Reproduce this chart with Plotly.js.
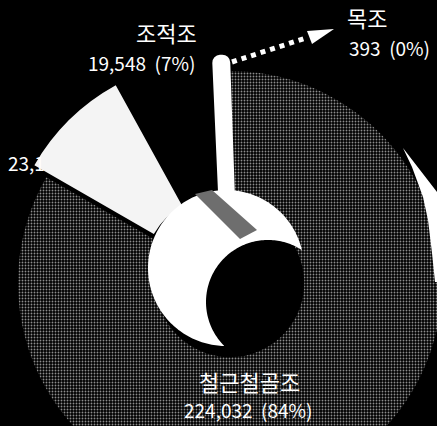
<!DOCTYPE html>
<html>
<head>
<meta charset="utf-8">
<script src="https://cdn.plot.ly/plotly-3.0.1.min.js"></script>
<style>
  html, body { margin: 0; padding: 0; background: #000; overflow: hidden; width: 437px; height: 426px; }
  #chart { width: 560px; height: 560px; }
</style>
</head>
<body>
<div id="chart"></div>
<script>
// Data
const categories = ['철근철골조', '철골조', '조적조', '목조'];
const values = [224032, 23150, 19548, 393];
const valueLabels = ['224,032', '23,1', '19,548', '393'];
const percentLabels = ['84%', '9%', '7%', '0%'];

// layout helpers (pixel -> paper, square canvas)
const S = 560;
const PX = p => p / S;
const PY = p => 1 - p / S;

const pulls = [0, 0.08, 0, 0.04];
const cx = 230, cy = 283, outerR = 212, maxPull = Math.max(...pulls);
const half = outerR * (1 + maxPull);

const pie = {
  type: 'pie',
  labels: categories,
  values: values,
  sort: false,
  direction: 'clockwise',
  rotation: -2,
  hole: 0.35,
  pull: pulls,
  textinfo: 'none',
  hoverinfo: 'label+value+percent',
  showlegend: false,
  domain: { x: [PX(cx - half), PX(cx + half)], y: [PY(cy + half), PY(cy - half)] },
  marker: {
    colors: ['#0e0e0e', '#f4f4f4', '#000000', '#ffffff'],
    line: { color: ['#000', '#f4f4f4', '#000', '#ffffff'], width: [0, 0, 0, 16] },
    pattern: { shape: ['.', '', '', ''], fgcolor: '#8c8c8c', size: 3, solidity: 0.3 }
  }
};

const font = { family: 'Noto Sans CJK KR, Noto Sans, sans-serif', color: '#ffffff' };
function ann(text, x, y, size, anchor) {
  return { text: text, x: PX(x), y: PY(y), xref: 'paper', yref: 'paper', showarrow: false,
           xanchor: anchor || 'center', yanchor: 'middle', font: Object.assign({ size: size }, font) };
}
const gap = '\u00a0 ';
const annotations = [
  ann(categories[2], 166, 32, 22),
  ann(valueLabels[2] + gap + '(' + percentLabels[2] + ')', 141, 62, 19),
  ann(categories[3], 367, 17, 22),
  ann(valueLabels[3] + gap + '(' + percentLabels[3] + ')', 389, 47, 19),
  ann(valueLabels[1], 6, 162, 19, 'left'),
  ann(categories[0], 249, 381, 22),
  ann(valueLabels[0] + gap + '(' + percentLabels[0] + ')', 248, 409, 19)
];

function poly(pts) {
  return 'M ' + pts.map(p => PX(p[0]) + ' ' + PY(p[1])).join(' L ') + ' Z';
}
// white crescent inside the hole: disc (c1) minus an offset disc (c2)
function crescent(c1x, c1y, r1, c2x, c2y, r2) {
  const N = 240;
  const inC2 = (x, y) => Math.hypot(x - c2x, y - c2y) < r2;
  const inC1 = (x, y) => Math.hypot(x - c1x, y - c1y) < r1;
  const p1 = [], p2 = [];
  for (let i = 0; i < N; i++) {
    const t = i / N * 2 * Math.PI;
    p1.push([c1x + r1 * Math.cos(t), c1y + r1 * Math.sin(t)]);
    p2.push([c2x + r2 * Math.cos(t), c2y + r2 * Math.sin(t)]);
  }
  let s1 = 0;
  for (let i = 0; i < N; i++) {
    const a = p1[(i - 1 + N) % N], b = p1[i];
    if (inC2(a[0], a[1]) && !inC2(b[0], b[1])) { s1 = i; break; }
  }
  const arc1 = [];
  for (let k = 0; k < N; k++) { const p = p1[(s1 + k) % N]; if (!inC2(p[0], p[1])) arc1.push(p); }
  let s2 = 0;
  for (let i = 0; i < N; i++) {
    const a = p2[(i - 1 + N) % N], b = p2[i];
    if (!inC1(a[0], a[1]) && inC1(b[0], b[1])) { s2 = i; break; }
  }
  let arc2 = [];
  for (let k = 0; k < N; k++) { const p = p2[(s2 + k) % N]; if (inC1(p[0], p[1])) arc2.push(p); }
  const last = arc1[arc1.length - 1];
  const dF = Math.hypot(last[0] - arc2[0][0], last[1] - arc2[0][1]);
  const dL = Math.hypot(last[0] - arc2[arc2.length - 1][0], last[1] - arc2[arc2.length - 1][1]);
  if (dL < dF) arc2 = arc2.reverse();
  return arc1.concat(arc2);
}
const shapes = [
  { type: 'path', xref: 'paper', yref: 'paper', layer: 'above',
    path: poly(crescent(226, 268, 78, 268, 302, 62)), fillcolor: '#ffffff', line: { width: 0 } },
  { type: 'path', xref: 'paper', yref: 'paper', layer: 'above',
    path: poly([[195, 194], [212, 190], [257, 230], [240, 239]]), fillcolor: '#6e6e6e', line: { width: 0 } },
  { type: 'path', xref: 'paper', yref: 'paper', layer: 'above',
    path: poly([[403, 148], [412, 167], [423, 197], [428, 220], [432, 253], [435, 282], [437, 282], [437, 192], [420, 170]]),
    fillcolor: '#ffffff', line: { width: 0 } },
  { type: 'line', xref: 'paper', yref: 'paper', layer: 'above',
    x0: PX(232), y0: PY(62), x1: PX(306), y1: PY(38),
    line: { color: '#ffffff', width: 5, dash: 'dot' } },
  { type: 'path', xref: 'paper', yref: 'paper', layer: 'above',
    path: poly([[307, 31], [334, 29], [312, 44]]), fillcolor: '#ffffff', line: { width: 0 } }
];

const layout = {
  width: S, height: S,
  margin: { l: 0, r: 0, t: 0, b: 0, pad: 0 },
  paper_bgcolor: '#000000',
  plot_bgcolor: '#000000',
  showlegend: false,
  annotations: annotations,
  shapes: shapes
};

Plotly.newPlot('chart', [pie], layout, { displayModeBar: false, staticPlot: true });
</script>
</body>
</html>
